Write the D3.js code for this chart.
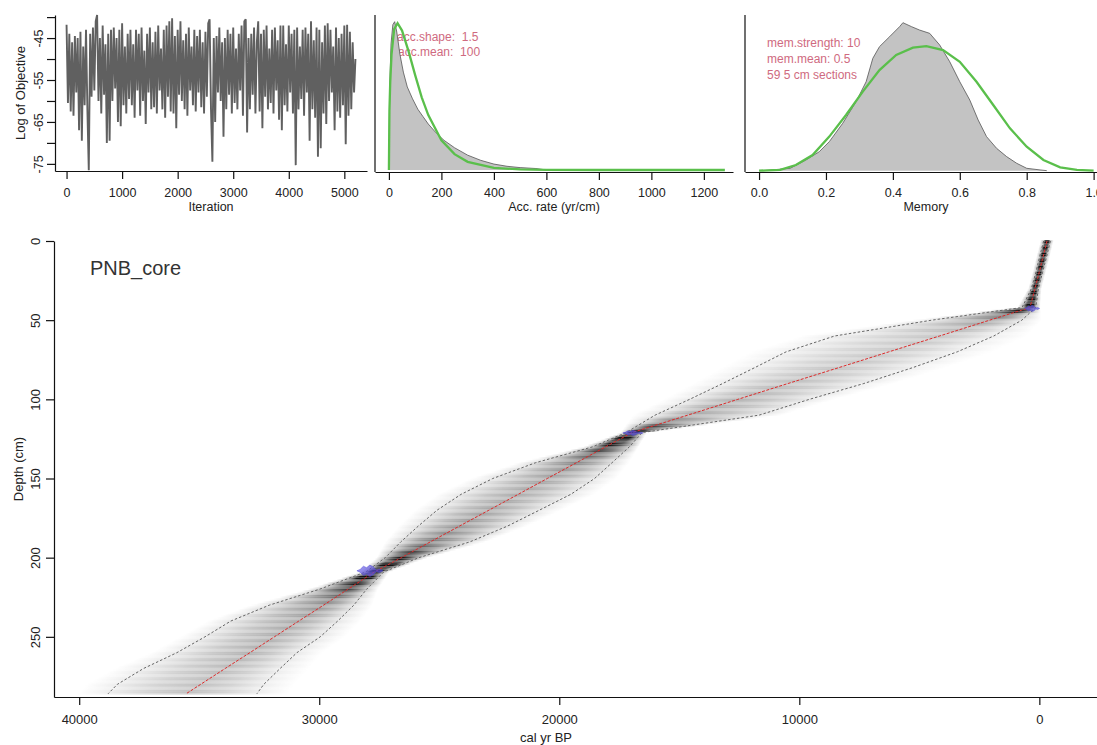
<!DOCTYPE html>
<html>
<head>
<meta charset="utf-8">
<script src="https://cdn.jsdelivr.net/npm/d3@7"></script>
<style>
body { margin: 0; background: #fff; }
svg { display: block; font-family: "Liberation Sans", Arial, sans-serif; }
.axis path, .axis line { stroke: #111; stroke-width: 1.2; }
.axis text { fill: #222; }
</style>
</head>
<body>
<script>
var W = 1097, H = 745;

// ---- data ----
// log objective, every 25th iteration
var traceStep = 25;
var traceVals = [
  -41.8, -60.5, -44, -62.5, -46, -63.5, -44.5, -58, -45, -67, -43.5, -69.5, -47, -61, -43, -62, -76.5, -44, -59, -42.5,
  -57.5, -41, -39.5, -60, -45, -63, -42, -58.5, -46.5, -70, -44, -69.5, -43, -60, -42.5, -57, -45, -65, -43, -66,
  -41.5, -61, -47, -63, -44, -59.5, -43, -61, -46.5, -64, -43, -57.5, -44, -63.5, -42.5, -60, -48, -65.5, -44, -58,
  -42.5, -62, -46, -61.5, -43.5, -63, -42, -57.5, -47.5, -62, -43, -64, -42, -59, -41, -62.5, -40.3, -63, -44.5, -66.5,
  -43, -58.5, -41, -60, -45.5, -62, -44, -63.5, -42.5, -57.5, -47, -61, -43, -62.5, -44.5, -58, -43, -61.5, -46, -63,
  -43.5, -59, -41.5, -40.5, -62, -74.5, -45, -65, -44.5, -58, -42.5, -60, -46, -68.5, -45, -62, -43, -58.5, -44, -63,
  -42.5, -60.5, -47.5, -62, -44, -57.5, -42, -63.5, -41, -40.5, -67.5, -45, -62, -44, -58.5, -42.5, -63, -46, -41, -62.5,
  -44, -66.5, -43, -59, -42, -62, -47.5, -60.5, -43, -63, -42.5, -57.5, -45.5, -64.5, -42, -67, -42, -61, -46.5, -62.5,
  -42, -58, -44, -63, -43, -75.3, -42.5, -62, -47, -59.5, -43, -63.5, -42.5, -58, -44, -69.5, -41, -62, -45.5, -64,
  -42.5, -73.3, -43, -71.3, -46, -63, -42, -65.5, -41.5, -60, -43, -58, -47, -67, -42.5, -62.5, -45, -64, -44, -61,
  -42, -70.3, -41.8, -63.5, -43.5, -62, -46, -58, -50
];
var iterTicks = [0, 1000, 2000, 3000, 4000, 5000];
var objTicks = [-40, -45, -50, -55, -60, -65, -70, -75];
var objLabels = [-45, -55, -65, -75];

// accumulation rate: posterior (grey) and prior (green), relative density
var accX = [0, 3, 8, 15, 22, 30, 42, 55, 70, 90, 110, 130, 150, 180, 210, 250, 300, 350, 400, 450, 500, 560, 600];
var accPost = [0, 0.55, 0.85, 0.98, 1.0, 0.93, 0.78, 0.66, 0.56, 0.48, 0.41, 0.36, 0.31, 0.25, 0.2, 0.15, 0.1, 0.065, 0.04, 0.025, 0.016, 0.01, 0];
var accPriorX = [0, 2, 5, 10, 20, 33, 50, 75, 100, 125, 150, 200, 250, 300, 400, 500, 600, 800, 1000, 1280];
var accPrior = [0, 0.4, 0.59, 0.78, 0.95, 0.99, 0.94, 0.8, 0.64, 0.49, 0.37, 0.2, 0.107, 0.055, 0.014, 0.004, 0.001, 0, 0, 0];
var accTicks = [0, 200, 400, 600, 800, 1000, 1200];
var accShape = 1.5, accMean = 100;

// memory: posterior (grey) and prior (green)
var memX = [0.013, 0.093, 0.14, 0.18, 0.21, 0.25, 0.29, 0.32, 0.34, 0.36, 0.39, 0.42, 0.43, 0.456, 0.48, 0.51, 0.54, 0.57, 0.6, 0.63, 0.655, 0.68, 0.71, 0.74, 0.77, 0.8, 0.84, 0.86];
var memPost = [0, 0.016, 0.072, 0.128, 0.196, 0.32, 0.466, 0.601, 0.759, 0.838, 0.905, 0.973, 1.0, 0.973, 0.95, 0.928, 0.849, 0.736, 0.601, 0.477, 0.342, 0.23, 0.151, 0.095, 0.05, 0.016, 0.005, 0];
var memPriorX = [0, 0.063, 0.11, 0.16, 0.21, 0.26, 0.31, 0.36, 0.41, 0.46, 0.5, 0.55, 0.6, 0.65, 0.7, 0.75, 0.8, 0.85, 0.9, 0.95, 1.0];
var memPrior = [0, 0.005, 0.038, 0.106, 0.23, 0.376, 0.534, 0.68, 0.782, 0.831, 0.842, 0.815, 0.736, 0.601, 0.444, 0.286, 0.162, 0.072, 0.023, 0.005, 0];
var memTicks = [0, 0.2, 0.4, 0.6, 0.8, 1.0];
var memStrength = 10, memMean = 0.5, nSections = 59, sectionThick = 5;

// age-depth model (cal yr BP)
var coreName = "PNB_core";
var modelDepths = [0, 10, 20, 30, 42, 50, 60, 70, 80, 90, 100, 110, 121, 130, 140, 150, 160, 170, 180, 190, 200, 209, 220, 230, 240, 250, 260, 270, 280, 286];
var meanAges = [-320, -155, 10, 180, 390, 2070, 4160, 6270, 8360, 10470, 12560, 14650, 16970, 18070, 19280, 20500, 21710, 22930, 24150, 25370, 26580, 27700, 28810, 29820, 30850, 31870, 32890, 33920, 34940, 35550];
var minAges = [-460, -300, -130, 40, 150, 730, 1900, 3420, 5280, 7310, 9580, 11680, 16550, 17080, 17800, 18530, 19520, 20830, 22150, 23720, 25850, 27310, 28030, 28560, 29230, 29960, 30930, 31630, 32310, 32600];
var maxAges = [-180, -10, 150, 330, 720, 4480, 8530, 10550, 11860, 13190, 14570, 16010, 17220, 18610, 20980, 22770, 24090, 25090, 25870, 26600, 27250, 28060, 30000, 32080, 33680, 34760, 35930, 37320, 38410, 38800];

// dated levels (calibrated distributions)
var dateDepths = [42.6, 121.2, 208.3];
var dateAges = [300, 16930, 27890];
var dateHalfRange = [310, 420, 540];
var dateHalfHeight = [2.0, 1.6, 3.6];
var calProfile = [0, 0.3, 0.15, 0.7, 1, 0.55, 0.8, 0.25, 0];

var ageTicks = [40000, 30000, 20000, 10000, 0];
var depthTicks = [0, 50, 100, 150, 200, 250];

var svg = d3.select('body').append('svg')
    .attr('width', W)
    .attr('height', H);

function bottomAxis(scale, y, vals, fmt, size, off) {
    var g = svg.append('g')
        .attr('class', 'axis')
        .attr('transform', 'translate(0,' + y + ')')
        .call(d3.axisBottom(scale).tickValues(vals).tickSize(8).tickSizeOuter(0).tickFormat(fmt));
    g.attr('font-family', null).attr('font-size', null);
    g.selectAll('.tick text')
        .attr('y', off)
        .attr('dy', '0.36em')
        .style('font-size', size + 'px');
    return g;
}

function leftAxis(scale, x, vals, fmt, size, off) {
    var g = svg.append('g')
        .attr('class', 'axis')
        .attr('transform', 'translate(' + x + ',0)')
        .call(d3.axisLeft(scale).tickValues(vals).tickSize(8).tickSizeOuter(0).tickFormat(fmt));
    g.attr('font-family', null).attr('font-size', null);
    g.selectAll('.tick text')
        .attr('x', null)
        .attr('dy', '0.36em')
        .attr('text-anchor', 'middle')
        .attr('transform', 'translate(' + (-off) + ',0) rotate(-90)')
        .style('font-size', size + 'px');
    return g;
}

function label(x, y, txt, size, rot) {
    var t = svg.append('text')
        .attr('text-anchor', 'middle')
        .attr('dy', '0.35em')
        .attr('fill', '#222')
        .style('font-size', size + 'px')
        .text(txt);
    if (rot) t.attr('transform', 'translate(' + x + ',' + y + ') rotate(-90)');
    else t.attr('x', x).attr('y', y);
    return t;
}

// ---------- panel 1: trace ----------
var x1 = d3.scaleLinear().domain([-208, 5408]).range([55, 367]);
var y1 = d3.scaleLinear().domain([-76.7, -39.5]).range([171, 15]);

svg.append('path')
    .datum(traceVals)
    .attr('fill', 'none')
    .attr('stroke', '#606060')
    .attr('stroke-width', 1.9)
    .attr('stroke-linejoin', 'bevel')
    .attr('d', d3.line()
        .x(function (d, i) { return x1(i * traceStep); })
        .y(function (d) { return y1(d); }));

bottomAxis(x1, 171, iterTicks, d3.format('d'), 12.5, 21);
leftAxis(y1, 55, objTicks, function (d) {
    return objLabels.indexOf(d) >= 0 ? d : '';
}, 12.5, 17);
label(211, 207, 'Iteration', 12.5);
label(20, 93, 'Log of Objective', 13, true);

// ---------- panel 2: accumulation rate ----------
var x2 = d3.scaleLinear().domain([-53, 1311]).range([375, 733]);
var y2 = d3.scaleLinear().domain([-0.0135, 1.045]).range([172, 15]);

var annCol = '#cf6a80';
svg.append('text').attr('x', 397).attr('y', 37).attr('dy', '0.35em')
    .attr('fill', annCol).style('font-size', '12px').style('white-space', 'pre')
    .text('acc.shape:  ' + accShape);
svg.append('text').attr('x', 398).attr('y', 52).attr('dy', '0.35em')
    .attr('fill', annCol).style('font-size', '12px').style('white-space', 'pre')
    .text('acc.mean:  ' + accMean);

var accPts = accX.map(function (d, i) { return [d, accPost[i]]; });
svg.append('path')
    .datum(accPts)
    .attr('fill', '#c3c3c3')
    .attr('d', d3.area()
        .x(function (d) { return x2(d[0]); })
        .y0(y2(0))
        .y1(function (d) { return y2(d[1]); }));
svg.append('path')
    .datum(accPts)
    .attr('fill', 'none')
    .attr('stroke', '#555')
    .attr('stroke-width', 0.8)
    .attr('d', d3.line()
        .x(function (d) { return x2(d[0]); })
        .y(function (d) { return y2(d[1]); }));
svg.append('path')
    .datum(accPriorX.map(function (d, i) { return [d, accPrior[i]]; }))
    .attr('fill', 'none')
    .attr('stroke', '#5abf4b')
    .attr('stroke-width', 2.3)
    .attr('d', d3.line()
        .x(function (d) { return x2(d[0]); })
        .y(function (d) { return y2(d[1]); }));

bottomAxis(x2, 172, accTicks, d3.format('d'), 12.5, 20);
svg.append('path').attr('d', 'M375,15V172').attr('stroke', '#111').attr('stroke-width', 1.2);
label(554, 207, 'Acc. rate (yr/cm)', 12.5);

// ---------- panel 3: memory ----------
var x3 = d3.scaleLinear().domain([-0.042, 1.04]).range([745, 1107]);
var y3 = d3.scaleLinear().domain([-0.009, 1.052]).range([172, 15]);

svg.append('text').attr('x', 767).attr('y', 43).attr('dy', '0.35em')
    .attr('fill', annCol).style('font-size', '12px')
    .text('mem.strength: ' + memStrength);
svg.append('text').attr('x', 767).attr('y', 59).attr('dy', '0.35em')
    .attr('fill', annCol).style('font-size', '12px')
    .text('mem.mean: ' + memMean);
svg.append('text').attr('x', 767).attr('y', 75).attr('dy', '0.35em')
    .attr('fill', annCol).style('font-size', '12px')
    .text(nSections + ' ' + sectionThick + ' cm sections');

var memPts = memX.map(function (d, i) { return [d, memPost[i]]; });
svg.append('path')
    .datum(memPts)
    .attr('fill', '#c3c3c3')
    .attr('d', d3.area()
        .x(function (d) { return x3(d[0]); })
        .y0(y3(0))
        .y1(function (d) { return y3(d[1]); }));
svg.append('path')
    .datum(memPts)
    .attr('fill', 'none')
    .attr('stroke', '#555')
    .attr('stroke-width', 0.8)
    .attr('d', d3.line()
        .x(function (d) { return x3(d[0]); })
        .y(function (d) { return y3(d[1]); }));
svg.append('path')
    .datum(memPriorX.map(function (d, i) { return [d, memPrior[i]]; }))
    .attr('fill', 'none')
    .attr('stroke', '#5abf4b')
    .attr('stroke-width', 2.3)
    .attr('d', d3.line()
        .x(function (d) { return x3(d[0]); })
        .y(function (d) { return y3(d[1]); }));

bottomAxis(x3, 172, memTicks, d3.format('.1f'), 12.5, 20);
svg.append('path').attr('d', 'M745,15V172').attr('stroke', '#111').attr('stroke-width', 1.2);
label(926, 207, 'Memory', 12.5);

// ---------- main panel: age-depth model ----------
var xM = d3.scaleLinear().domain([41050, -3360]).range([54, 1120]);
var yM = d3.scaleLinear().domain([0, 288]).range([241, 697]);

var meanAt = d3.scaleLinear().domain(modelDepths).range(meanAges);
var minAt = d3.scaleLinear().domain(modelDepths).range(minAges);
var maxAt = d3.scaleLinear().domain(modelDepths).range(maxAges);

// greyscale: one row per cm, darker where the age range is narrow
var defs = svg.append('defs');
var rows = d3.range(0, modelDepths[modelDepths.length - 1] + 1);
rows.forEach(function (d) {
    var xl = xM(maxAt(d)), xr = xM(minAt(d)), xm = xM(meanAt(d));
    var w = Math.max(xr - xl, 2);
    var pad = 0.2 * w + 2;
    var a = xl - pad, b = xr + pad, span = b - a;
    var peak = Math.min(0.95, 36 / w) * ((Math.floor(d / 2) % 2) ? 0.72 : 1);
    var mid = w < 30 ? 0.95 : 0.7;
    var grad = defs.append('linearGradient')
        .attr('id', 'row' + d)
        .attr('gradientUnits', 'userSpaceOnUse')
        .attr('x1', a).attr('x2', b).attr('y1', 0).attr('y2', 0);
    var stops = [
        [0, 0],
        [(xl - a) / span, 0.28],
        [((xl + xm) / 2 - a) / span, mid],
        [(xm - a) / span, 1],
        [((xm + xr) / 2 - a) / span, mid],
        [(xr - a) / span, 0.28],
        [1, 0]
    ];
    stops.forEach(function (s) {
        grad.append('stop')
            .attr('offset', s[0])
            .attr('stop-color', '#000')
            .attr('stop-opacity', s[1] * peak);
    });
    svg.append('rect')
        .attr('x', a)
        .attr('width', span)
        .attr('y', yM(d - 0.5))
        .attr('height', yM(d + 0.5) - yM(d - 0.5))
        .attr('fill', 'url(#row' + d + ')');
});

var rangeLine = function (ages) {
    return d3.line()
        .x(function (d, i) { return xM(ages[i]); })
        .y(function (d) { return yM(d); });
};
svg.append('path').datum(modelDepths)
    .attr('fill', 'none').attr('stroke', '#666').attr('stroke-width', 1)
    .attr('stroke-dasharray', '2.5,2')
    .attr('d', rangeLine(minAges));
svg.append('path').datum(modelDepths)
    .attr('fill', 'none').attr('stroke', '#666').attr('stroke-width', 1)
    .attr('stroke-dasharray', '2.5,2')
    .attr('d', rangeLine(maxAges));
svg.append('path').datum(modelDepths)
    .attr('fill', 'none').attr('stroke', '#dd2b2b').attr('stroke-width', 1)
    .attr('stroke-dasharray', '3,1.5')
    .attr('d', rangeLine(meanAges));

// calibrated dates
dateDepths.forEach(function (dep, j) {
    var n = calProfile.length;
    svg.append('path')
        .datum(calProfile)
        .attr('fill', '#5a50e0')
        .attr('fill-opacity', 0.65)
        .attr('stroke', '#4b45d6')
        .attr('stroke-opacity', 0.8)
        .attr('stroke-width', 0.6)
        .attr('d', d3.area()
            .x(function (p, k) { return xM(dateAges[j] + dateHalfRange[j] * (-1 + 2 * k / (n - 1))); })
            .y0(function (p) { return yM(dep + p * dateHalfHeight[j]); })
            .y1(function (p) { return yM(dep - p * dateHalfHeight[j]); }));
});

bottomAxis(xM, 697, ageTicks, d3.format('d'), 13, 22);
leftAxis(yM, 54, depthTicks, d3.format('d'), 13, 19);
label(546, 737, 'cal yr BP', 13);
label(18, 469, 'Depth (cm)', 13, true);

svg.append('text')
    .attr('x', 90)
    .attr('y', 268)
    .attr('dy', '0.35em')
    .attr('fill', '#333')
    .style('font-size', '20px')
    .text(coreName);
</script>
</body>
</html>
